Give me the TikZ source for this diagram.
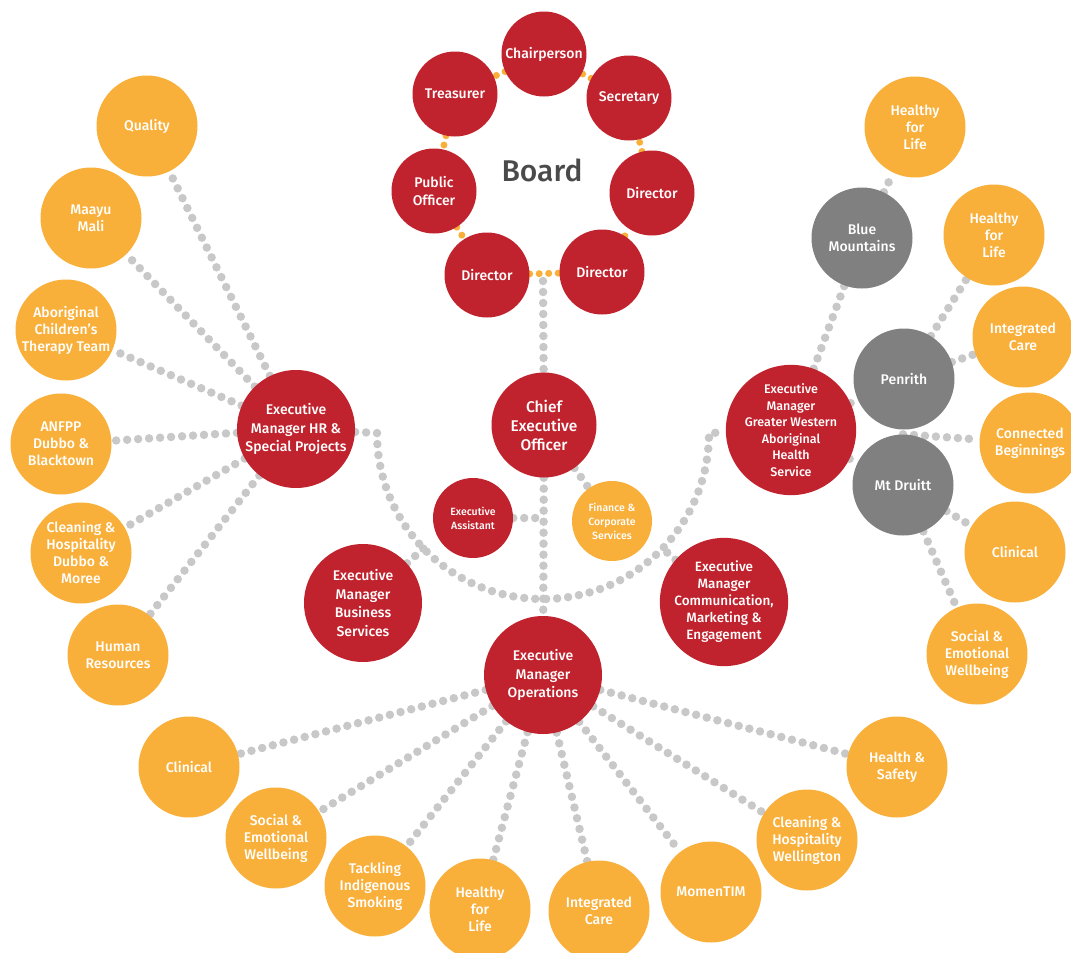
\documentclass[tikz,border=0pt]{standalone}
\usepackage{fontspec}
\setmainfont{Fira Sans}[UprightFont={* Medium}]
\usetikzlibrary{backgrounds}
\definecolor{cred}{HTML}{C1232E}
\definecolor{corange}{HTML}{F9B03B}
\definecolor{cgray}{HTML}{808080}
\definecolor{cdot}{HTML}{C8C8C8}
\definecolor{ctext}{HTML}{4A4A4A}
\begin{document}
\begin{tikzpicture}[x=1pt,y=-1pt,
  base/.style={circle, inner sep=0pt, text=white, align=center},
  boardnode/.style={base, fill=cred, minimum size=85pt, font=\fontsize{14}{18}\selectfont},
  mgr/.style={base, fill=cred, minimum size=118pt, font=\fontsize{14}{18.5}\selectfont},
  small/.style={base, minimum size=80pt, font=\fontsize{10.5}{14}\selectfont},
  sat/.style={base, fill=corange, minimum size=101pt, font=\fontsize{14}{17}\selectfont},
  gnode/.style={base, fill=cgray, minimum size=101pt, font=\fontsize{14}{17}\selectfont},
  gdots/.style={draw=cdot, line width=8.5pt, dash pattern=on 0pt off 11pt, line cap=round},
  odots/.style={draw=corange, line width=7pt, dash pattern=on 0pt off 9.5pt, line cap=round}]
\useasboundingbox (0,0) rectangle (1071,953);

% Board
\node[boardnode] (chair) at (544,54) {Chairperson};
\node[boardnode] (treas) at (455,94) {Treasurer};
\node[boardnode] (secr) at (629,98) {Secretary};
\node[boardnode] (pubo) at (434,191) {Public\\Officer};
\node[boardnode] (dirr) at (652,193) {Director};
\node[boardnode] (dirbl) at (487,275) {Director};
\node[boardnode] (dirbr) at (602,272) {Director};
\node[text=ctext, font=\fontsize{30}{34}\selectfont] (board) at (542,170) {Board};
\coordinate (bj) at (543,281);

% Centre
\node[mgr, font=\fontsize{15.5}{19}\selectfont, minimum size=105pt] (ceo) at (544,425) {Chief\\Executive\\Officer};
\node[small, fill=cred] (ea) at (473,518) {Executive\\Assistant};
\node[small, fill=corange] (fin) at (612,521) {Finance \&\\Corporate\\Services};
\node[mgr] (hr) at (296,429) {Executive\\Manager HR \&\\Special Projects};
\node[mgr, font=\fontsize{12.5}{16.5}\selectfont] (gw) at (791,430) {Executive\\Manager\\Greater Western\\Aboriginal\\Health\\Service};
\node[mgr] (biz) at (363,603) {Executive\\Manager\\Business\\Services};
\node[mgr, font=\fontsize{13.5}{17}\selectfont] (comm) at (724,602) {Executive\\Manager\\Communication,\\Marketing \&\\Engagement};
\node[mgr] (ops) at (543,675) {Executive\\Manager\\Operations};
\coordinate (arcL) at (377,433);
\coordinate (arcR) at (709,433);
\coordinate (bizc) at (424,548);
\coordinate (commc) at (662,548);

% Left satellites
\node[sat] (quality) at (147,126) {Quality};
\node[sat] (maayu) at (91,218) {Maayu\\Mali};
\node[sat] (actt) at (66,330) {Aboriginal\\Children’s\\Therapy Team};
\node[sat] (anfpp) at (61,444) {ANFPP\\Dubbo \&\\Blacktown};
\node[sat] (chdm) at (81,553) {Cleaning \&\\Hospitality\\Dubbo \&\\Moree};
\node[sat] (hres) at (118,655) {Human\\Resources};

% Right satellites
\node[gnode] (bm) at (862,238) {Blue\\Mountains};
\node[gnode] (pen) at (904,379) {Penrith};
\node[gnode] (mtd) at (903,485) {Mt Druitt};
\node[sat] (hfl1) at (915,127) {Healthy\\for\\Life};
\node[sat] (hfl2) at (994,235) {Healthy\\for\\Life};
\node[sat] (ic1) at (1023,337) {Integrated\\Care};
\node[sat] (cb) at (1030,443) {Connected\\Beginnings};
\node[sat] (clin1) at (1015,552) {Clinical};
\node[sat] (sew1) at (977,654) {Social \&\\Emotional\\Wellbeing};

% Bottom satellites
\node[sat] (clin2) at (189,767) {Clinical};
\node[sat] (sew2) at (276,838) {Social \&\\Emotional\\Wellbeing};
\node[sat] (tis) at (375,886) {Tackling\\Indigenous\\Smoking};
\node[sat] (hfl3) at (480,909) {Healthy\\for\\Life};
\node[sat] (ic2) at (599,911) {Integrated\\Care};
\node[sat] (mom) at (711,892) {MomenTIM};
\node[sat] (chw) at (807,840) {Cleaning \&\\Hospitality\\Wellington};
\node[sat] (hs) at (897,767) {Health \&\\Safety};

\begin{scope}[on background layer]
  % board ring
  \draw[odots] (chair) -- (treas);
  \draw[odots] (treas) -- (pubo);
  \draw[odots] (pubo) -- (dirbl);
  \draw[odots] (dirbl) -- (dirbr);
  \draw[odots] (dirbr) -- (dirr);
  \draw[odots] (dirr) -- (secr);
  \draw[odots] (secr) -- (chair);
  % spine
  \draw[gdots] (bj) -- (ceo);
  \draw[gdots] (ceo) -- (ops);
  \draw[gdots] (ea) -- (ea -| ceo);
  \draw[gdots] (ceo) -- (fin);
  % arc
  \draw[gdots] (hr) -- (arcL) .. controls (377,525) and (451,599) .. (543,599)
     .. controls (635,599) and (709,525) .. (arcR) -- (gw);
  \draw[gdots] (biz) -- (bizc);
  \draw[gdots] (comm) -- (commc);
  % left
  \foreach \n in {quality,maayu,actt,anfpp,chdm,hres} \draw[gdots] (hr) -- (\n);
  % right
  \draw[gdots] (gw) -- (bm);
  \draw[gdots] (gw) -- (pen);
  \draw[gdots] (gw) -- (mtd);
  \draw[gdots] (bm) -- (hfl1);
  \draw[gdots] (pen) -- (hfl2);
  \draw[gdots] (pen) -- (ic1);
  \draw[gdots] (mtd.north) -- (cb);
  \draw[gdots] (mtd) -- (clin1);
  \draw[gdots] (mtd) -- (sew1);
  % bottom
  \foreach \n in {clin2,sew2,tis,hfl3,ic2,mom,chw,hs} \draw[gdots] (ops) -- (\n);
\end{scope}
\end{tikzpicture}
\end{document}
